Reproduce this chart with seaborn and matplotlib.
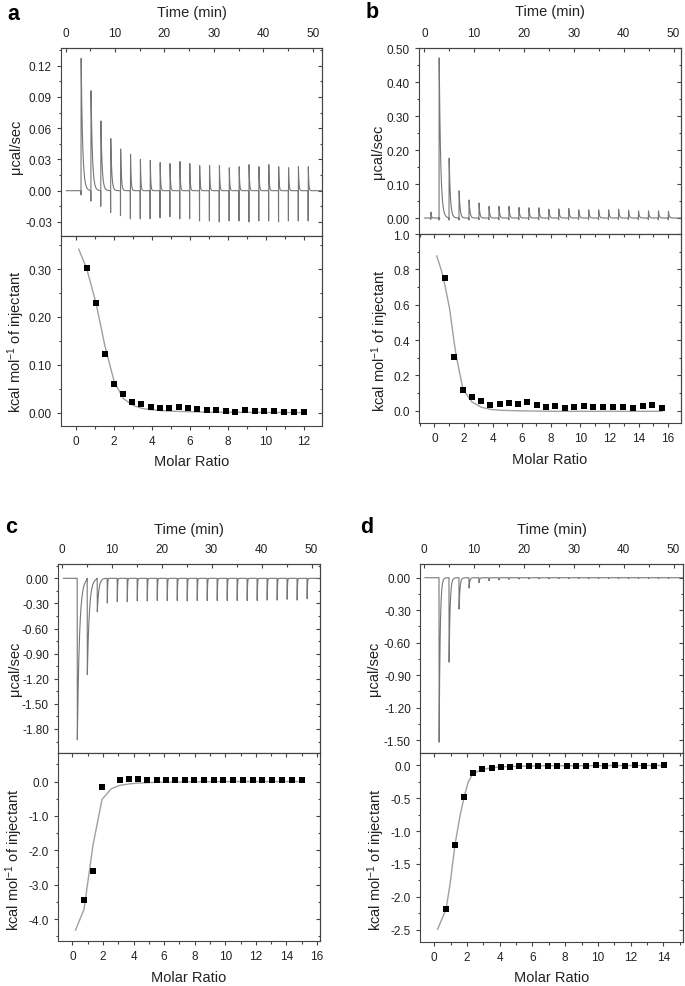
# ITC titrations, four panels (raw heat + integrated heats)

import numpy as np
import seaborn as sns
import matplotlib.pyplot as plt
from matplotlib.ticker import FixedLocator, FuncFormatter

sns.set_style("ticks")
plt.rcParams['font.family'] = ['Liberation Sans', 'DejaVu Sans']
plt.rcParams['mathtext.fontset'] = 'custom'
plt.rcParams['mathtext.rm'] = 'Liberation Sans'
plt.rcParams['mathtext.it'] = 'Liberation Sans:italic'

# ---- panel a ----
a_inj = [3.1, 5.1, 7.1, 9.1, 11.1, 13.1, 15.1, 17.1, 19.1, 21.1, 23.1, 25.1,
         27.1, 29.1, 31.1, 33.1, 35.1, 37.1, 39.1, 41.1, 43.1, 45.1, 47.1, 49.1]
a_peak = [0.127, 0.096, 0.067, 0.050, 0.040, 0.035, 0.030, 0.029, 0.027, 0.026, 0.028, 0.026,
          0.024, 0.024, 0.024, 0.022, 0.023, 0.025, 0.023, 0.025, 0.023, 0.022, 0.023, 0.023]
a_dip = [-0.004, -0.010, -0.015, -0.021, -0.024, -0.027, -0.027, -0.027, -0.026, -0.025, -0.027, -0.027,
         -0.029, -0.029, -0.030, -0.029, -0.029, -0.030, -0.029, -0.029, -0.030, -0.029, -0.029, -0.029]
a_width = [0.3, 0.28, 0.25, 0.2, 0.15, 0.12, 0.1, 0.1, 0.1, 0.1, 0.1, 0.1,
           0.1, 0.1, 0.1, 0.1, 0.1, 0.1, 0.1, 0.1, 0.1, 0.1, 0.1, 0.1]
a_ratio = [0.56, 1.05, 1.51, 2.0, 2.47, 2.95, 3.44, 3.93, 4.42, 4.9, 5.41, 5.88,
           6.39, 6.88, 7.37, 7.88, 8.39, 8.89, 9.41, 9.92, 10.42, 10.93, 11.46, 11.98]
a_heat = [0.303, 0.228, 0.122, 0.059, 0.038, 0.022, 0.018, 0.012, 0.010, 0.010, 0.012, 0.010,
          0.008, 0.005, 0.0045, 0.0025, 0.002, 0.005, 0.003, 0.003, 0.0025, 0.001, 0.001, 0.002]
a_fit_x = [0.13, 0.56, 1.05, 1.51, 2.0, 2.47, 2.95, 3.44, 3.93, 4.9, 6.88, 12.0]
a_fit_y = [0.342, 0.300, 0.228, 0.140, 0.065, 0.030, 0.016, 0.009, 0.006, 0.003, 0.001, 0.0]

# ---- panel b ----
b_inj = [1.3, 2.95, 4.95, 6.95, 8.95, 10.95, 12.95, 14.95, 16.95, 18.95, 20.95, 22.95, 24.95,
         26.95, 28.95, 30.95, 32.95, 34.95, 36.95, 38.95, 40.95, 42.95, 44.95, 46.95, 48.95]
b_peak = [0.017, 0.471, 0.176, 0.080, 0.053, 0.044, 0.034, 0.034, 0.034, 0.031, 0.030, 0.030, 0.026,
          0.027, 0.028, 0.024, 0.024, 0.024, 0.024, 0.026, 0.023, 0.021, 0.021, 0.021, 0.020]
b_dip = [-0.004, -0.006, -0.006, -0.006, -0.006, -0.005, -0.005, -0.005, -0.005, -0.005, -0.005, -0.005, -0.005,
         -0.005, -0.005, -0.005, -0.005, -0.005, -0.005, -0.005, -0.005, -0.005, -0.005, -0.005, -0.005]
b_width = [0.1, 0.3, 0.25, 0.2, 0.18, 0.15, 0.15, 0.15, 0.15, 0.15, 0.15, 0.15, 0.15,
           0.15, 0.15, 0.15, 0.15, 0.15, 0.15, 0.15, 0.15, 0.15, 0.15, 0.15, 0.15]
b_ratio = [0.75, 1.37, 1.97, 2.58, 3.22, 3.84, 4.48, 5.12, 5.73, 6.37, 7.01, 7.65,
           8.27, 8.95, 9.59, 10.23, 10.89, 11.55, 12.22, 12.9, 13.59, 14.27, 14.93, 15.6]
b_heat = [0.75, 0.305, 0.12, 0.077, 0.058, 0.030, 0.041, 0.045, 0.036, 0.047, 0.032, 0.021,
          0.028, 0.017, 0.021, 0.027, 0.019, 0.021, 0.021, 0.023, 0.017, 0.025, 0.034, 0.017]
b_fit_x = [0.16, 0.5, 0.75, 1.05, 1.37, 1.5, 1.97, 2.58, 3.22, 3.84, 4.48, 5.73, 8.27, 15.6]
b_fit_y = [0.877, 0.79, 0.70, 0.576, 0.38, 0.31, 0.12, 0.05, 0.02, 0.008, 0.003, 0.0, -0.003, -0.003]

# ---- panel c ----
c_inj = [3.1, 5.1, 7.1, 9.1, 11.1, 13.1, 15.1, 17.1, 19.1, 21.1, 23.1, 25.1,
         27.1, 29.1, 31.1, 33.1, 35.1, 37.1, 39.1, 41.1, 43.1, 45.1, 47.1, 49.1]
c_peak = [-1.93, -1.15, -0.40, -0.295, -0.28, -0.28, -0.27, -0.27, -0.265, -0.265, -0.265, -0.27,
          -0.265, -0.265, -0.265, -0.265, -0.265, -0.265, -0.265, -0.26, -0.26, -0.25, -0.26, -0.245]
c_dip = [0.0] * 24
c_width = [0.43, 0.4, 0.3, 0.06, 0.06, 0.06, 0.06, 0.06, 0.06, 0.06, 0.06, 0.06,
           0.06, 0.06, 0.06, 0.06, 0.06, 0.06, 0.06, 0.06, 0.06, 0.06, 0.06, 0.06]
c_ratio = [0.76, 1.35, 1.94, 3.11, 3.71, 4.30, 4.89, 5.51, 6.12, 6.73, 7.36, 7.98,
           8.61, 9.24, 9.88, 10.51, 11.17, 11.80, 12.43, 13.07, 13.70, 14.36, 15.02]
c_heat = [-3.44, -2.60, -0.17, 0.05, 0.06, 0.07, 0.04, 0.05, 0.05, 0.04, 0.05, 0.05,
          0.05, 0.04, 0.04, 0.05, 0.04, 0.04, 0.04, 0.04, 0.04, 0.04, 0.03]
c_fit_x = [0.2, 0.76, 1.35, 1.94, 2.55, 3.11, 3.71, 4.30, 5.51, 7.36, 10.51, 15.02]
c_fit_y = [-4.33, -3.72, -1.85, -0.52, -0.21, -0.11, -0.07, -0.045, -0.02, -0.01, 0.0, 0.0]

# ---- panel d ----
d_inj = [2.95, 4.95, 6.95, 8.95, 10.95, 12.95, 14.95, 16.95, 18.95, 20.95, 22.95, 24.95,
         26.95, 28.95, 30.95, 32.95, 34.95, 36.95, 38.95, 40.95, 42.95, 44.95, 46.95, 48.95]
d_peak = [-1.52, -0.78, -0.29, -0.095, -0.045, -0.028, -0.02, -0.015, -0.012, -0.01, -0.01, -0.01,
          -0.008, -0.008, -0.008, -0.008, -0.008, -0.008, -0.008, -0.008, -0.008, -0.008, -0.008, -0.008]
d_dip = [0.0] * 24
d_width = [0.2, 0.2, 0.18, 0.15, 0.12, 0.1, 0.1, 0.1, 0.1, 0.1, 0.1, 0.1,
           0.1, 0.1, 0.1, 0.1, 0.1, 0.1, 0.1, 0.1, 0.1, 0.1, 0.1, 0.1]
d_ratio = [0.72, 1.27, 1.83, 2.38, 2.93, 3.51, 4.08, 4.63, 5.2, 5.79, 6.36, 6.93,
           7.5, 8.09, 8.68, 9.25, 9.87, 10.45, 11.05, 11.66, 12.25, 12.84, 13.45, 14.06]
d_heat = [-2.19, -1.21, -0.48, -0.12, -0.06, -0.04, -0.025, -0.02, -0.015, -0.015, -0.015, -0.01,
          -0.01, -0.005, -0.01, -0.01, 0.0, -0.005, 0.0, -0.005, 0.005, -0.005, -0.005, 0.0]
d_fit_x = [0.2, 0.72, 0.96, 1.27, 1.58, 1.83, 2.08, 2.38, 2.93, 4.0, 6.5, 14.06]
d_fit_y = [-2.5, -2.19, -1.82, -1.205, -0.76, -0.476, -0.25, -0.12, -0.06, -0.02, -0.005, 0.0]

W, H = 685, 987
fig = plt.figure(figsize=(W / 100, H / 100), dpi=100)
SP = '#444444'
TXT = '#222222'


def rect(l, t, r, b):
    return [l / W, 1 - b / H, (r - l) / W, (b - t) / H]


def fmt(d):
    return FuncFormatter(lambda v, p: f"{(round(v, d) + 0.0):.{d}f}")


def ticks(lim, step):
    # only the multiples of step that lie inside the axis range
    lo, hi = lim
    k0 = int(np.ceil(lo / step - 1e-6))
    k1 = int(np.floor(hi / step + 1e-6))
    return [round(k * step, 6) for k in range(k0, k1 + 1)]


def trace(start, end, inj, peak, dip, width):
    # raw power trace: spike at each injection, exponential return to baseline
    t, y = [start], [0.0]
    s = np.linspace(0.02, 1.8, 50)
    for ti, p, d, tau in zip(inj, peak, dip, width):
        t += [ti - 0.03, ti, ti + 0.03]
        y += [0.0, d, p]
        t += list(ti + 0.03 + s)
        y += list(p * np.exp(-s / tau))
    t.append(end)
    y.append(0.0)
    return t, y


def set_ticks(axis, lim, step):
    axis.set_major_locator(FixedLocator(ticks(lim, step)))
    axis.set_minor_locator(FixedLocator(ticks(lim, step / 2)))


def style(ax, xlim, ylim, xmaj, ymaj, ydec, xlabels=True):
    set_ticks(ax.xaxis, xlim, xmaj)
    set_ticks(ax.yaxis, ylim, ymaj)
    ax.yaxis.set_major_formatter(fmt(ydec))
    ax.tick_params(axis='y', which='both', direction='out', left=True, right=False,
                   colors=SP, labelcolor=TXT, labelsize=8.5, pad=3.5)
    ax.tick_params(axis='x', which='both', direction='out', top=False, bottom=xlabels,
                   labelbottom=xlabels, colors=SP, labelcolor=TXT, labelsize=8.5, pad=3.5)
    ax.tick_params(which='major', length=3, width=0.8)
    ax.tick_params(which='minor', length=1.8, width=0.8)
    for sp in ax.spines.values():
        sp.set_visible(True)
        sp.set_color(SP)
        sp.set_linewidth(0.8)
    # inward ticks on top and right
    top = ax.secondary_xaxis('top')
    set_ticks(top.xaxis, xlim, xmaj)
    top.tick_params(which='both', direction='in', colors=SP, labelcolor=TXT, labelsize=8.5, pad=6.5)
    top.tick_params(which='major', length=3, width=0.8)
    top.tick_params(which='minor', length=1.8, width=0.8)
    top.spines['top'].set_color(SP)
    top.spines['top'].set_linewidth(0.8)
    right = ax.secondary_yaxis('right')
    set_ticks(right.yaxis, ylim, ymaj)
    right.tick_params(which='both', direction='in', labelright=False, colors=SP)
    right.tick_params(which='major', length=3, width=0.8)
    right.tick_params(which='minor', length=1.8, width=0.8)
    right.spines['right'].set_color(SP)
    right.spines['right'].set_linewidth(0.8)
    return top


def panel(letter, lpos, top_px, bot_px, tr, tlim, ylim_t, ymaj_t,
          ratio, heat, fit_x, fit_y, rlim, ylim_b, ymaj_b, ydec_b, rmaj,
          ylab_x, ylab_y_t, ylab_y_b, time_y, molar_y):
    # raw thermogram
    ax_t = fig.add_axes(rect(*top_px))
    sns.lineplot(x=tr[0], y=tr[1], ax=ax_t, color='#767676', linewidth=0.8,
                 estimator=None, sort=False)
    ax_t.set_xlim(*tlim)
    ax_t.set_ylim(*ylim_t)
    top = style(ax_t, tlim, ylim_t, 10, ymaj_t, 2, xlabels=False)
    top.tick_params(labeltop=True)
    top.set_xlabel('Time (min)', fontsize=10.5, color=TXT)
    l, t, r, b = top_px
    top.xaxis.set_label_coords(0.5, (b - time_y) / (b - t), transform=ax_t.transAxes)
    top.xaxis.label.set_va('center')
    ax_t.set_ylabel('\u03bccal/sec', fontsize=10.5, color=TXT)
    ax_t.yaxis.set_label_coords((ylab_x[0] - l) / (r - l), (b - ylab_y_t) / (b - t))
    ax_t.yaxis.label.set_va('center')

    # integrated heats with fit
    ax_b = fig.add_axes(rect(*bot_px))
    sns.lineplot(x=fit_x, y=fit_y, ax=ax_b, color='#a0a0a0', linewidth=1.0,
                 estimator=None, sort=False)
    sns.scatterplot(x=ratio, y=heat, ax=ax_b, marker='s', s=22, color='black',
                    edgecolor='black', linewidth=0, zorder=3)
    ax_b.set_xlim(*rlim)
    ax_b.set_ylim(*ylim_b)
    tb = style(ax_b, rlim, ylim_b, rmaj, ymaj_b, ydec_b, xlabels=True)
    tb.tick_params(labeltop=False)
    l, t, r, b = bot_px
    ax_b.set_xlabel('Molar Ratio', fontsize=10.5, color=TXT)
    ax_b.xaxis.set_label_coords(0.5, (b - molar_y) / (b - t))
    ax_b.xaxis.label.set_va('center')
    ax_b.set_ylabel('kcal mol$^{-1}$ of injectant', fontsize=10.5, color=TXT)
    ax_b.yaxis.set_label_coords((ylab_x[1] - l) / (r - l), (b - ylab_y_b) / (b - t))
    ax_b.yaxis.label.set_va('center')

    fig.text(lpos[0] / W, 1 - lpos[1] / H, letter, fontsize=15.5, fontweight='bold',
             ha='center', va='baseline', color='black')


panel('a', (13, 20.5), (61, 49, 322, 237), (61, 237, 322, 427),
      trace(0.1, 51.9, a_inj, a_peak, a_dip, a_width), (-0.95, 51.9), (-0.0435, 0.137), 0.03,
      a_ratio, a_heat, a_fit_x, a_fit_y, (-0.8, 12.95), (-0.028, 0.369), 0.10, 2, 2,
      (15.8, 15.8), 147, 341.7, 13, 461.7)

panel('b', (372, 18.3), (419, 49, 681, 235), (419, 235, 681, 424),
      trace(0.0, 51.5, b_inj, b_peak, b_dip, b_width), (-1.07, 51.5), (-0.047, 0.50), 0.10,
      b_ratio, b_heat, b_fit_x, b_fit_y, (-1.05, 16.9), (-0.069, 1.0), 0.2, 1, 2,
      (378.3, 380), 151.7, 340.8, 12, 460)

panel('c', (11, 533.3), (58, 565, 320, 754), (58, 754, 320, 942),
      trace(0.3, 51.4, c_inj, c_peak, c_dip, c_width), (-0.74, 51.7), (-2.087, 0.171), 0.30,
      c_ratio, c_heat, c_fit_x, c_fit_y, (-0.94, 16.2), (-4.64, 0.83), 1.0, 1, 2,
      (15, 14.2), 669, 860, 530, 978)

panel('d', (367, 533.3), (420, 565, 683, 754), (420, 754, 683, 943),
      trace(0.1, 51.9, d_inj, d_peak, d_dip, d_width), (-0.86, 51.9), (-1.62, 0.127), 0.30,
      d_ratio, d_heat, d_fit_x, d_fit_y, (-0.87, 15.2), (-2.69, 0.19), 0.5, 1, 2,
      (373.8, 376.2), 669, 860, 530, 978)

fig.savefig('out.png', dpi=100)
